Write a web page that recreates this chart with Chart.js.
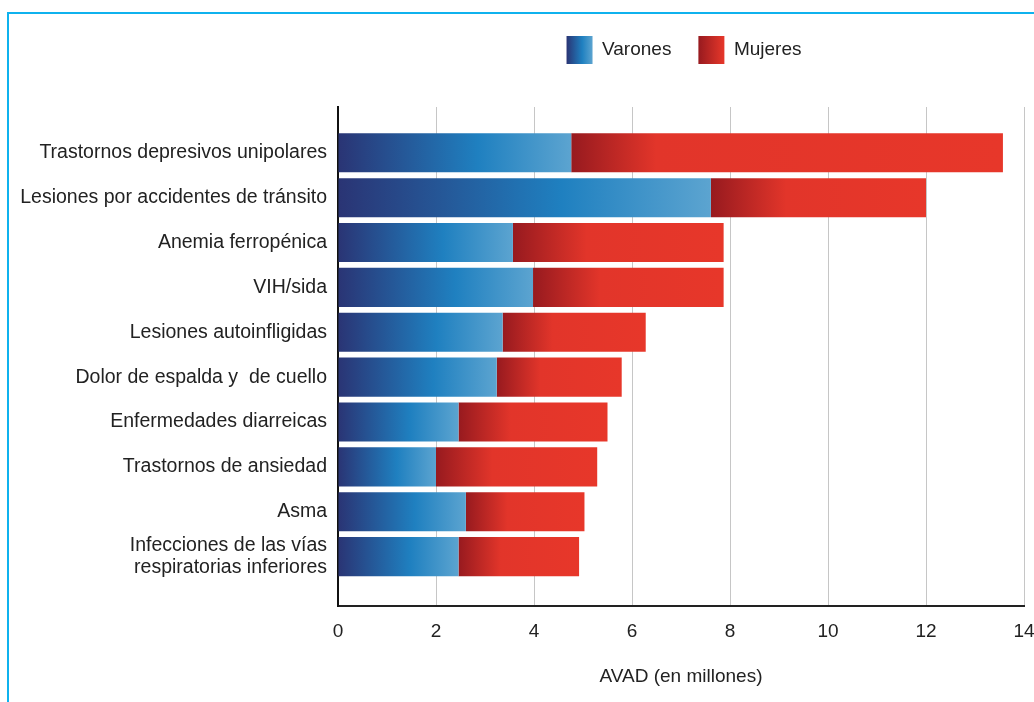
<!DOCTYPE html>
<html>
<head>
<meta charset="utf-8">
<script src="https://cdn.jsdelivr.net/npm/chart.js@4/dist/chart.umd.min.js"></script>
<style>
  html, body { margin: 0; padding: 0; background: #fff; }
  #wrap { position: relative; width: 1034px; height: 702px; overflow: hidden; }
  #frame { position: absolute; left: 7px; top: 12px; width: 1100px; height: 800px;
           border-left: 2px solid #0fb2ee; border-top: 2px solid #0fb2ee; pointer-events: none; }
  canvas { position: absolute; left: 0; top: 0; }
</style>
</head>
<body>
<div id="wrap">
  <div id="frame"></div>
  <canvas id="chart" width="1034" height="702"></canvas>
</div>
<script>
// Leading causes of DALYs among 15-44 year olds, by sex (millions)
const categories = [
  'Trastornos depresivos unipolares',
  'Lesiones por accidentes de tránsito',
  'Anemia ferropénica',
  'VIH/sida',
  'Lesiones autoinfligidas',
  'Dolor de espalda y  de cuello',
  'Enfermedades diarreicas',
  'Trastornos de ansiedad',
  'Asma',
  'Infecciones de las vías\nrespiratorias inferiores'
];
const varones = [4.76, 7.61, 3.57, 3.98, 3.36, 3.24, 2.46, 2.00, 2.61, 2.46];
const mujeres = [8.81, 4.39, 4.30, 3.89, 2.92, 2.55, 3.04, 3.29, 2.42, 2.46];
const xTicks = [0, 2, 4, 6, 8, 10, 12, 14];
const seriesNames = ['Varones', 'Mujeres'];

const FAMILY = "'Liberation Sans', Arial, Helvetica, sans-serif";
const FONT = { family: FAMILY, size: 19 };
const LABEL_FONT = { family: FAMILY, size: 19.5, lineHeight: 1.12 };
const INK = '#222';

const blueStops = [[0, '#2a3474'], [0.6, '#1f80c0'], [1, '#5ca4d0']];
const redStops  = [[0, '#971a1f'], [1, '#e7372a']];

function gradient(ctx, x0, x1, stops) {
  if (!Number.isFinite(x0) || !Number.isFinite(x1) || x1 <= x0) return null;
  const g = ctx.createLinearGradient(x0, 0, x1, 0);
  stops.forEach(([o, c]) => g.addColorStop(o, c));
  return g;
}

// Blue runs from the axis to the end of the men's segment
function menFill(c) {
  const xs = c.chart.scales.x;
  if (c.type !== 'data' || !xs) return '#1f80c0';
  const i = c.dataIndex;
  return gradient(c.chart.ctx, xs.getPixelForValue(0), xs.getPixelForValue(varones[i]), blueStops) || '#1f80c0';
}

// Red darkens at the seam, then settles to a flat red
function womenFill(c) {
  const xs = c.chart.scales.x;
  if (c.type !== 'data' || !xs) return '#e7372a';
  const i = c.dataIndex;
  const a = xs.getPixelForValue(varones[i]);
  const b = xs.getPixelForValue(varones[i] + mujeres[i]);
  const p = Math.min(0.35, 85 / Math.max(1, b - a));
  return gradient(c.chart.ctx, a, b, [[0, '#971a1f'], [p, '#e2352a'], [1, '#e7372a']]) || '#e7372a';
}

// Legend sits a little right of the plot's centre; gradient swatches
const legendTweaks = {
  id: 'legendTweaks',
  afterLayout(chart) {
    const lg = chart.legend;
    if (lg) { lg.left += 3; lg.right += 3; }
  },
  beforeDraw(chart) {
    const lg = chart.legend;
    if (!lg || !lg.legendHitBoxes || !lg.legendItems) return;
    const w = lg.options.labels.boxWidth;
    lg.legendItems.forEach((item, i) => {
      const hb = lg.legendHitBoxes[i];
      if (!hb) return;
      const g = gradient(chart.ctx, hb.left, hb.left + w, i === 0 ? blueStops : redStops);
      if (g) item.fillStyle = g;
      item.lineWidth = 0;
    });
  }
};

new Chart(document.getElementById('chart'), {
  type: 'bar',
  data: {
    datasets: [
      { label: seriesNames[0], data: varones.map((v, i) => ({ x: v, y: i })), backgroundColor: menFill },
      { label: seriesNames[1], data: mujeres.map((v, i) => ({ x: v, y: i })), backgroundColor: womenFill }
    ]
  },
  options: {
    indexAxis: 'y',
    responsive: false,
    animation: false,
    events: [],
    categoryPercentage: 1,
    barPercentage: 0.87,
    layout: { padding: { top: 9, right: 10, bottom: 0, left: 0 } },
    plugins: {
      legend: {
        position: 'top',
        fullSize: false,
        align: 'center',
        labels: { boxWidth: 26, boxHeight: 28, padding: 27, color: INK, font: FONT }
      },
      tooltip: { enabled: false }
    },
    scales: {
      x: {
        type: 'linear', position: 'bottom', min: 0, max: 14, stacked: true,
        afterBuildTicks: s => { s.ticks = xTicks.map(v => ({ value: v })); },
        afterFit: s => { s.height = 96; s.paddingLeft = 0; s.paddingRight = 0; },
        grid: { color: '#c6c6c6', lineWidth: 1, drawTicks: false },
        border: { color: '#222', width: 2 },
        ticks: { color: INK, font: FONT, padding: 14, maxRotation: 0 },
        title: { display: true, text: 'AVAD (en millones)', color: INK, font: FONT,
                 padding: { top: 0, bottom: 14 } }
      },
      gap: {
        type: 'linear', position: 'top', axis: 'x',
        afterFit: s => { s.height = 33; s.paddingLeft = 0; s.paddingRight = 0; },
        grid: { display: false, drawTicks: false },
        border: { display: false },
        ticks: { display: false }
      },
      y: {
        type: 'linear', reverse: true, min: -1.02, max: 10.1, stacked: true, offset: false,
        afterBuildTicks: s => { s.ticks = categories.map((_, i) => ({ value: i })); },
        afterFit: s => { s.width = 338; s.paddingTop = 0; s.paddingBottom = 0; },
        grid: { display: false, drawTicks: false, offset: false },
        border: { display: true, color: '#111', width: 2 },
        ticks: {
          autoSkip: false, color: INK, font: LABEL_FONT, padding: 11,
          callback: v => (categories[v] || '').split('\n')
        }
      }
    }
  },
  plugins: [legendTweaks]
});
</script>
</body>
</html>
